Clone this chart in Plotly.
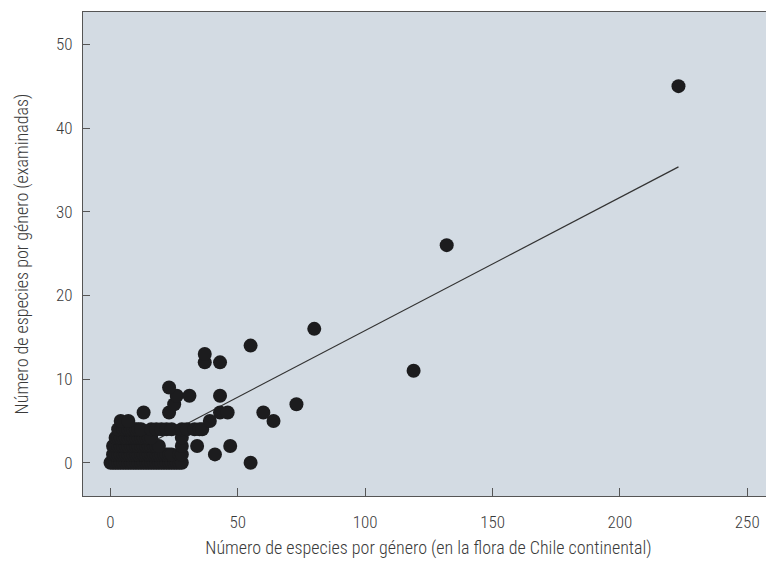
import plotly.graph_objects as go

# Species per genus in the flora of continental Chile (x) vs. species examined (y)
row0_x = list(range(0, 29)) + [55]
row1_x = list(range(1, 25)) + [27, 28, 41]
row2_x = list(range(1, 20)) + [28, 34, 47]
row3_x = list(range(2, 17)) + [28]
row4_x = [3, 5, 6, 7, 8, 9, 10, 11, 12, 16, 18, 20, 22, 24, 28, 30, 33, 35, 36]
row5_x = [4, 7, 39, 64]
row6_x = [13, 23, 43, 46, 60]
other_x = [25, 73, 26, 31, 43, 23, 119, 37, 43, 37, 55, 80, 132, 223]
other_y = [7, 7, 8, 8, 8, 9, 11, 12, 12, 13, 14, 16, 26, 45]

species_chile = row0_x + row1_x + row2_x + row3_x + row4_x + row5_x + row6_x + other_x
species_examined = ([0] * len(row0_x) + [1] * len(row1_x) + [2] * len(row2_x)
                    + [3] * len(row3_x) + [4] * len(row4_x) + [5] * len(row5_x)
                    + [6] * len(row6_x) + other_y)

# Linear fit
fit_intercept = -0.1
fit_slope = 0.159
fit_x_range = [18, 223]
fit_y = [fit_intercept + fit_slope * v for v in fit_x_range]

x_ticks = [0, 50, 100, 150, 200, 250]
y_ticks = [0, 10, 20, 30, 40, 50]

font_family = "Roboto Condensed, Liberation Sans Narrow, DejaVu Sans Condensed, Arial Narrow, sans-serif"
text_color = "#3a3a3a"

fig = go.Figure()
fig.add_trace(go.Scatter(
    x=fit_x_range, y=fit_y, mode="lines",
    line=dict(color="#333333", width=1.2), hoverinfo="skip", showlegend=False))
fig.add_trace(go.Scatter(
    x=species_chile, y=species_examined, mode="markers",
    marker=dict(size=14, color="#1c1c1e", line=dict(width=0)),
    showlegend=False))

fig.update_layout(
    width=766, height=557,
    margin=dict(l=75, r=0, t=4, b=69, autoexpand=False),
    paper_bgcolor="white", plot_bgcolor="#d3dbe3",
    font=dict(family=font_family, size=17, color=text_color, weight=300),
    xaxis=dict(
        range=[-10.8, 260.5], tickvals=x_ticks, ticks="inside", ticklen=8,
        tickcolor="#555555", showline=True, linecolor="#555555", linewidth=1.2,
        mirror=True, showgrid=False, zeroline=False, ticklabelstandoff=10,
        automargin=False,
        title=dict(text="Número de especies por género (en la flora de Chile continental)",
                   font=dict(size=18, color=text_color, weight=300), standoff=10)),
    yaxis=dict(
        range=[-3.97, 53.86], tickvals=y_ticks, ticks="inside", ticklen=7,
        tickcolor="#555555", showline=True, linecolor="#555555", linewidth=1.2,
        showgrid=False, zeroline=False, ticklabelstandoff=6, automargin=False,
        title=dict(text="Número de especies por género (examinadas)",
                   font=dict(size=18, color=text_color, weight=300), standoff=22)),
)

fig.write_html("out.html")
